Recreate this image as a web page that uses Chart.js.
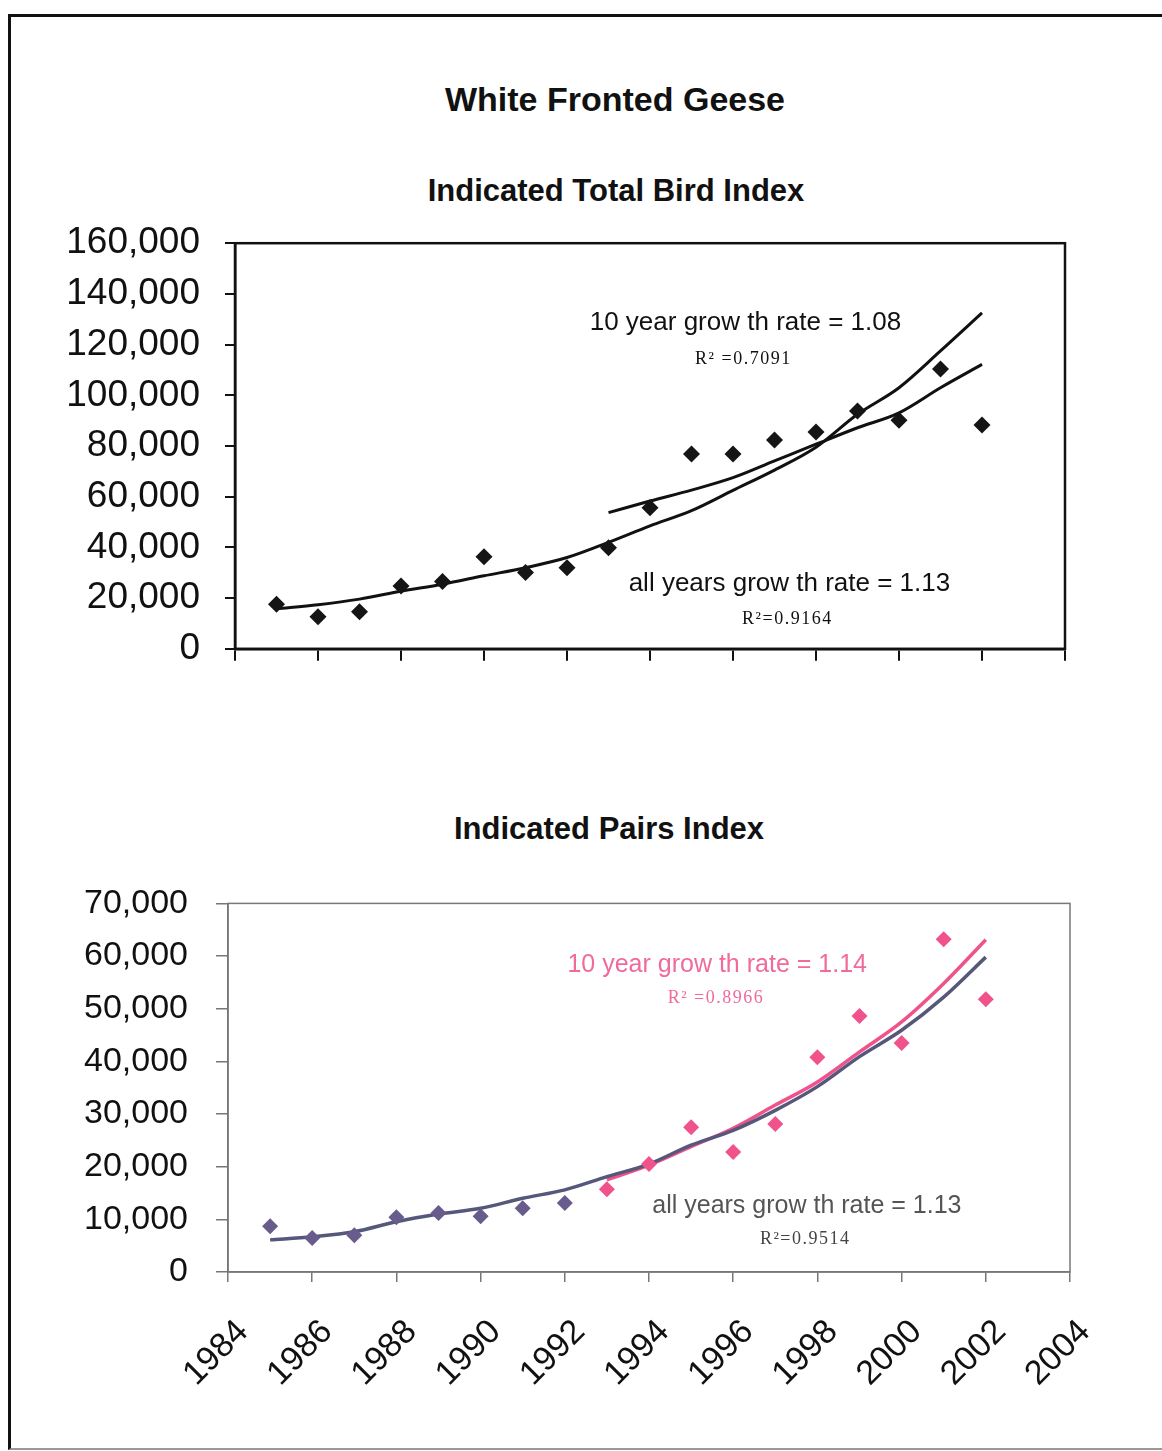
<!DOCTYPE html>
<html>
<head>
<meta charset="utf-8">
<script src="https://cdn.jsdelivr.net/npm/chart.js@4.4.1/dist/chart.umd.min.js"></script>
<style>
  body { margin: 0; background: #fff; width: 1162px; height: 1451px; position: relative; overflow: hidden;
         font-family: "Liberation Sans", Arial, sans-serif; }
  .frame { position: absolute; left: 8px; top: 14px; width: 1200px; height: 1431px;
           border-left: 3px solid #111; border-top: 3px solid #111; border-bottom: 2px solid #999; }
  .title { position: absolute; left: 0; width: 1162px; text-align: center; font-weight: bold; color: #111; line-height: 40px; }
  .wrap { position: absolute; left: 0; width: 1162px; }
</style>
</head>
<body>
<div class="frame"></div>
<div class="title" style="top:79px; font-size:34px; left:34px;">White Fronted Geese</div>
<div class="title" style="top:171px; font-size:31px; left:35px;">Indicated Total Bird Index</div>
<div class="title" style="top:809px; font-size:31px; left:28px;">Indicated Pairs Index</div>
<div class="wrap" style="top:196px; height:500px;"><canvas id="birdChart"></canvas></div>
<div class="wrap" style="top:855px; height:565px;"><canvas id="pairsChart"></canvas></div>
<script>
// Years surveyed
const years = [1985, 1986, 1987, 1988, 1989, 1990, 1991, 1992, 1993,
               1994, 1995, 1996, 1997, 1998, 1999, 2000, 2001, 2002];
const recentYears = years.slice(8); // the last 10 years (1993-2002)

// Indicated Total Bird Index
const totalBirds = [17600, 12600, 14600, 24800, 26500, 36300, 30100, 32000, 39900,
                    55600, 76800, 76800, 82400, 85500, 93800, 90200, 110400, 88300];
// trend lines
const birdsTrendAll = [15800, 17400, 19600, 22700, 25500, 28800, 32000, 36000, 42000,
                       48500, 54500, 62500, 70500, 79500, 92500, 103000, 117500, 132500];
const birdsTrend10 = [53700, 58300, 62600, 67500, 74100, 80700, 87200, 93100, 103000, 112200];

// Indicated Pairs Index
const pairs = [8700, 6450, 7000, 10400, 11200, 10600, 12100, 13100, 15700,
               20500, 27500, 22800, 28100, 40800, 48600, 43500, 63200, 51800];
const pairsTrendAll = [6100, 6700, 7650, 9550, 11000, 12100, 14000, 15600, 18100,
                       20500, 24100, 26900, 30700, 35200, 40900, 45900, 52200, 59800];
const pairsTrend10 = [17500, 20300, 23800, 27300, 31700, 36100, 41800, 47500, 54800, 63100];

// Axis ticks
const yearTicks = [1984, 1986, 1988, 1990, 1992, 1994, 1996, 1998, 2000, 2002, 2004];
const birdTicks = [0, 20000, 40000, 60000, 80000, 100000, 120000, 140000, 160000];
const pairTicks = [0, 10000, 20000, 30000, 40000, 50000, 60000, 70000];

const FONT = '"Liberation Sans", Arial, sans-serif';
const SERIF = '"Liberation Serif", "Times New Roman", serif';
const PINK = '#f0528c';
const PURPLE = '#675c8c';
const SLATE = '#55587a';

function pts(xs, ys) {
    return xs.map((x, i) => ({ x: x, y: ys[i] }));
}
function fmt(v) {
    return Number(v).toLocaleString('en-US');
}

// frame around the plot area
const boxPlugin = {
    id: 'box',
    beforeDatasetsDraw(chart, args, opts) {
        const a = chart.chartArea, ctx = chart.ctx;
        ctx.save();
        ctx.strokeStyle = opts.color;
        ctx.lineWidth = opts.width;
        ctx.strokeRect(a.left, a.top, a.right - a.left, a.bottom - a.top);
        ctx.restore();
    }
};

// growth-rate texts, placed in data coordinates
const notesPlugin = {
    id: 'notes',
    afterDatasetsDraw(chart, args, opts) {
        const ctx = chart.ctx, xs = chart.scales.x, ys = chart.scales.y;
        opts.items.forEach(n => {
            ctx.save();
            ctx.font = n.font;
            ctx.fillStyle = n.color;
            ctx.textAlign = 'center';
            ctx.textBaseline = 'middle';
            if (n.spacing) ctx.letterSpacing = n.spacing;
            ctx.fillText(n.text, xs.getPixelForValue(n.x), ys.getPixelForValue(n.y));
            ctx.restore();
        });
    }
};

// Chart 1: total birds
new Chart(document.getElementById('birdChart'), {
    type: 'scatter',
    data: {
        datasets: [
            {
                data: pts(years, totalBirds),
                pointStyle: 'rectRot', pointRadius: 8.5,
                backgroundColor: '#151515', borderColor: '#151515', borderWidth: 0
            },
            {
                data: pts(years, birdsTrendAll), showLine: true, pointRadius: 0,
                borderColor: '#111', borderWidth: 3, cubicInterpolationMode: 'monotone'
            },
            {
                data: pts(recentYears, birdsTrend10), showLine: true, pointRadius: 0,
                borderColor: '#111', borderWidth: 3, cubicInterpolationMode: 'monotone'
            }
        ]
    },
    options: {
        responsive: true,
        maintainAspectRatio: false,
        animation: false,
        layout: { padding: { top: 12, right: 97, left: 0, bottom: 0 } },
        scales: {
            x: {
                type: 'linear', min: 1984, max: 2004,
                afterBuildTicks: s => { s.ticks = yearTicks.map(v => ({ value: v })); },
                afterFit: s => { s.height = 32; },
                ticks: { display: false },
                grid: { drawOnChartArea: false, drawTicks: true, tickLength: 12, color: '#111', lineWidth: 2 },
                border: { color: '#111', width: 2.5 }
            },
            y: {
                min: 0, max: 160000,
                afterBuildTicks: s => { s.ticks = birdTicks.map(v => ({ value: v })); },
                afterFit: s => { s.width = 235; },
                ticks: { font: { family: FONT, size: 37 }, color: '#111', padding: 25, callback: fmt },
                grid: { drawOnChartArea: false, drawTicks: true, tickLength: 10, color: '#111', lineWidth: 2 },
                border: { color: '#111', width: 2.5 }
            }
        },
        plugins: {
            legend: { display: false },
            tooltip: { enabled: false },
            box: { color: '#111', width: 2.5 },
            notes: {
                items: [
                    { text: '10 year grow th rate = 1.08', x: 1996.3, y: 128500, font: '26px ' + FONT, color: '#111' },
                    { text: 'R\u00B2 =0.7091', x: 1996.25, y: 114300, font: '18px ' + SERIF, color: '#111', spacing: '1.5px' },
                    { text: 'all years grow th rate = 1.13', x: 1997.36, y: 25600, font: '26px ' + FONT, color: '#111' },
                    { text: 'R\u00B2=0.9164', x: 1997.31, y: 11800, font: '18px ' + SERIF, color: '#111', spacing: '1.5px' }
                ]
            }
        }
    },
    plugins: [boxPlugin, notesPlugin]
});

// Chart 2: pairs
new Chart(document.getElementById('pairsChart'), {
    type: 'scatter',
    data: {
        datasets: [
            {
                data: pts(years, pairs),
                pointStyle: 'rectRot', pointRadius: 8,
                backgroundColor: ctx => (years[ctx.dataIndex] >= recentYears[0] ? PINK : PURPLE),
                borderWidth: 0
            },
            {
                data: pts(years, pairsTrendAll), showLine: true, pointRadius: 0,
                borderColor: SLATE, borderWidth: 3.5, cubicInterpolationMode: 'monotone'
            },
            {
                data: pts(recentYears, pairsTrend10), showLine: true, pointRadius: 0,
                borderColor: PINK, borderWidth: 3.5, cubicInterpolationMode: 'monotone'
            }
        ]
    },
    options: {
        responsive: true,
        maintainAspectRatio: false,
        animation: false,
        layout: { padding: { top: 23, right: 92, left: 0, bottom: 0 } },
        scales: {
            x: {
                type: 'linear', min: 1984, max: 2004,
                afterBuildTicks: s => { s.ticks = yearTicks.map(v => ({ value: v })); },
                afterFit: s => { s.height = 148; },
                ticks: {
                    font: { family: FONT, size: 34 }, color: '#111', padding: 30, labelOffset: 15,
                    minRotation: 45, maxRotation: 45, autoSkip: false,
                    callback: v => String(v)
                },
                grid: { drawOnChartArea: false, drawTicks: true, tickLength: 10, color: '#777', lineWidth: 1.5 },
                border: { color: '#777', width: 1.5 }
            },
            y: {
                min: 0, max: 70000,
                afterBuildTicks: s => { s.ticks = pairTicks.map(v => ({ value: v })); },
                afterFit: s => { s.width = 228; },
                ticks: { font: { family: FONT, size: 34 }, color: '#111', padding: 28, callback: fmt },
                grid: { drawOnChartArea: false, drawTicks: true, tickLength: 12, color: '#777', lineWidth: 1.5 },
                border: { color: '#777', width: 1.5 }
            }
        },
        plugins: {
            legend: { display: false },
            tooltip: { enabled: false },
            box: { color: '#777', width: 1.5 },
            notes: {
                items: [
                    { text: '10 year grow th rate = 1.14', x: 1995.62, y: 58250, font: '25px ' + FONT, color: '#f06a9c' },
                    { text: 'R\u00B2 =0.8966', x: 1995.59, y: 52000, font: '18px ' + SERIF, color: '#f06a9c', spacing: '1.5px' },
                    { text: 'all years grow th rate = 1.13', x: 1997.75, y: 12520, font: '25px ' + FONT, color: '#555' },
                    { text: 'R\u00B2=0.9514', x: 1997.71, y: 6260, font: '18px ' + SERIF, color: '#444', spacing: '1.5px' }
                ]
            }
        }
    },
    plugins: [boxPlugin, notesPlugin]
});
</script>
</body>
</html>
